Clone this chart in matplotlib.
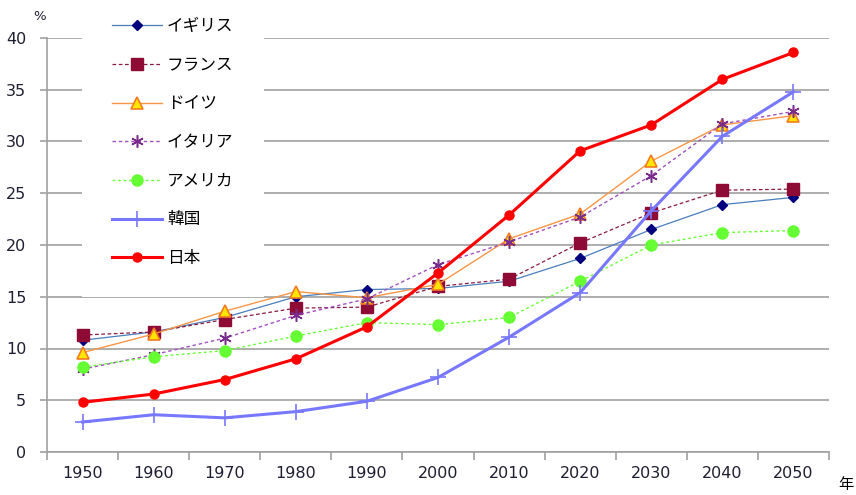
import matplotlib.pyplot as plt
import numpy as np

plt.rcParams['font.family'] = ['DejaVu Sans', 'Noto Sans CJK JP']

# 高齢化率 (65歳以上人口の割合, %)
years = ['1950', '1960', '1970', '1980', '1990', '2000', '2010', '2020', '2030', '2040', '2050']
uk = [10.8, 11.6, 13.0, 15.0, 15.7, 15.8, 16.5, 18.7, 21.5, 23.9, 24.6]
france = [11.3, 11.6, 12.8, 13.9, 14.0, 16.0, 16.7, 20.2, 23.1, 25.3, 25.4]
germany = [9.6, 11.4, 13.6, 15.5, 14.9, 16.2, 20.6, 23.0, 28.1, 31.6, 32.5]
italy = [8.0, 9.4, 11.0, 13.2, 14.8, 18.1, 20.3, 22.7, 26.7, 31.7, 32.9]
usa = [8.2, 9.2, 9.8, 11.2, 12.5, 12.3, 13.0, 16.5, 20.0, 21.2, 21.4]
korea = [2.9, 3.6, 3.3, 3.9, 4.9, 7.2, 11.1, 15.4, 23.3, 30.5, 34.8]
japan = [4.8, 5.6, 7.0, 9.0, 12.1, 17.3, 22.9, 29.1, 31.6, 36.0, 38.6]

fig = plt.figure(figsize=(8.56, 4.95), dpi=100)
ax = fig.add_axes([47 / 856, 43 / 495, 782 / 856, 414 / 495])
x = np.arange(len(years))

ax.plot(x, uk, color='#4A7EBB', lw=0.9, marker='D', ms=5, mfc='#00007F', mec='#00007F', label='イギリス')
ax.plot(x, france, color='#8B1A3F', lw=0.9, dashes=(3, 2), marker='s', ms=8, mfc='#8E0B35', mec='#8E0B35', label='フランス')
ax.plot(x, germany, color='#F79646', lw=1.0, marker='^', ms=9, mfc='#FFE600', mec='#F47A20', mew=1.2, label='ドイツ')
ax.plot(x, italy, color='#A050C0', lw=1.0, dashes=(2.5, 2), marker=(6, 2, 0), ms=9, mec='#7A2C8C', mew=1.1, label='イタリア')
ax.plot(x, usa, color='#66FF33', lw=1.0, dashes=(2, 2), marker='o', ms=8, mfc='#66FF33', mec='#66FF33', label='アメリカ')
ax.plot(x, korea, color='#7878FF', lw=2.2, marker='+', ms=11, mew=1.2, mec='#7878FF', label='韓国')
ax.plot(x, japan, color='#FF0000', lw=2.2, marker='o', ms=6.5, mfc='#FF0000', mec='#FF0000', label='日本')

ax.set_xlim(-0.5, 10.5)
ax.set_ylim(0, 40)
ax.set_yticks(np.arange(0, 41, 5))
ax.set_xticks(x)
ax.set_xticklabels(years)
ax.set_xticks(np.arange(-0.5, 11, 1), minor=True)
ax.tick_params(axis='x', which='major', length=0, pad=10, labelsize=11.5, labelcolor='#1E1E32')
ax.tick_params(axis='x', which='minor', length=6, color='#A0A0A0', width=1.2)
ax.tick_params(axis='y', length=5, color='#A0A0A0', width=1.2, pad=10, labelsize=11.5, labelcolor='#1E1E32')
ax.yaxis.grid(True, color='#A0A0A0', lw=1.2)
ax.set_axisbelow(True)
for side in ['top', 'right']:
    ax.spines[side].set_visible(False)
for side in ['left', 'bottom']:
    ax.spines[side].set_color('#A0A0A0')
    ax.spines[side].set_linewidth(1.2)

fig.text(33 / 856, 1 - 17 / 495, '%', fontsize=9.5, color='#1E1E32', ha='left', va='center')
fig.text(838 / 856, 1 - 484 / 495, '年', fontsize=11, family=['Noto Sans CJK JP'], ha='left', va='center')

leg = ax.legend(loc='upper left', bbox_to_anchor=(82 / 856, 1 + 12 / 495), bbox_transform=fig.transFigure,
                prop={'family': ['Noto Sans CJK JP'], 'size': 12}, labelspacing=1.3,
                handlelength=3.0, handletextpad=0.3, borderpad=1.8, borderaxespad=0,
                frameon=True, fancybox=False)
leg.get_frame().set_facecolor('white')
leg.get_frame().set_edgecolor('none')
leg.get_frame().set_alpha(1)

fig.savefig('out.png', dpi=100)
